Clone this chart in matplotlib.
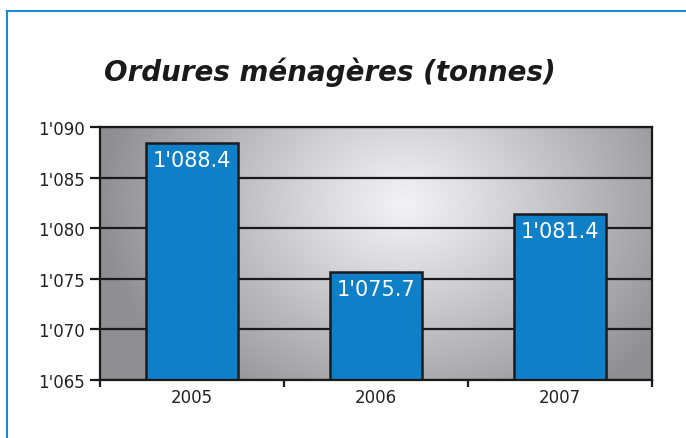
import numpy as np
import matplotlib
matplotlib.use("Agg")
import matplotlib.pyplot as plt
from matplotlib.lines import Line2D

years = ["2005", "2006", "2007"]
tonnes = [1088.4, 1075.7, 1081.4]
yticks = [1065, 1070, 1075, 1080, 1085, 1090]


def fmt(v, dec=0):
    s = f"{v:.{dec}f}"
    ip, _, fp = s.partition(".")
    ip = ip[:-3] + "'" + ip[-3:]
    return ip + ("." + fp if fp else "")


fig = plt.figure(figsize=(6.86, 4.39), dpi=100)
fig.patch.set_facecolor("white")
ax = fig.add_axes([0.1458, 0.1321, 0.8046, 0.5763])

# radial grey gradient background
nx_, ny_ = 300, 200
xx, yy = np.meshgrid(np.linspace(0, 1, nx_), np.linspace(0, 1, ny_))
r = np.sqrt(((xx - 0.55) / 0.55) ** 2 + ((yy - 0.3) / 0.95) ** 2)
r = np.clip(r, 0, 1)
lo = np.array([0.95, 0.95, 0.96])
hi = np.array([0.56, 0.56, 0.58])
img = lo + (hi - lo) * r[..., None] ** 1.1
ax.imshow(img, extent=(-0.5, 2.5, 1065, 1090), aspect="auto", zorder=0, origin="upper")

for t in yticks:
    ax.axhline(t, color="#1a1a1a", lw=1.6, zorder=1)

x = np.arange(len(years))
bars = ax.bar(x, tonnes, width=0.5, bottom=0, color="#0f80c8", edgecolor="#1a1a1a",
              linewidth=1.8, zorder=2)
for xi, v in zip(x, tonnes):
    ax.annotate(fmt(v, 1), (xi, v), xytext=(0, -5), textcoords="offset points",
                ha="center", va="top", color="white", fontsize=15, zorder=3)

ax.set_xlim(-0.5, 2.5)
ax.set_ylim(1065, 1090)
ax.set_yticks(yticks)
ax.set_yticklabels([fmt(t) for t in yticks], fontsize=12, color="#222222")
ax.set_xticks(x)
ax.set_xticklabels(years, fontsize=12, color="#222222")
ax.set_xticks([-0.5, 0.5, 1.5, 2.5], minor=True)
ax.tick_params(axis="x", which="major", length=0, pad=6)
ax.tick_params(axis="x", which="minor", length=5, width=1.6, color="#1a1a1a")
ax.tick_params(axis="y", length=7, width=1.6, color="#1a1a1a", pad=4)
for s in ax.spines.values():
    s.set_color("#1a1a1a")
    s.set_linewidth(1.6)

fig.text(0.481, 0.836, "Ordures ménagères (tonnes)", ha="center", va="center",
         fontsize=20, fontweight="bold", style="italic", color="#1a1a1a")

# blue frame (top and left)
blue = "#1a8ad4"
fig.add_artist(Line2D([7 / 686, 1], [1 - 12 / 439, 1 - 12 / 439], color=blue, lw=1.5,
                      transform=fig.transFigure))
fig.add_artist(Line2D([7 / 686, 7 / 686], [0, 1 - 12 / 439], color=blue, lw=1.5,
                      transform=fig.transFigure))

fig.savefig("out.png", dpi=100)
